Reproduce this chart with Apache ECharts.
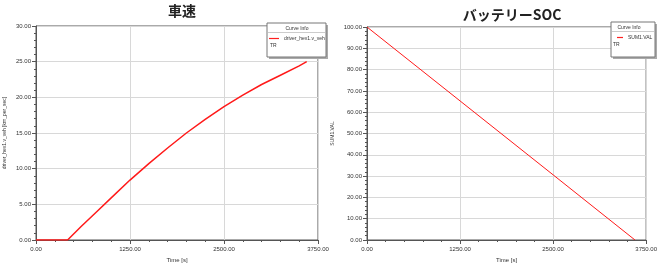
<!DOCTYPE html>
<html>
<head>
<meta charset="utf-8">
<script src="https://cdn.jsdelivr.net/npm/echarts@6/dist/echarts.min.js"></script>
<style>html,body{margin:0;padding:0;background:#fff}#c{width:660px;height:268px}</style>
</head>
<body>
<div id="c"></div>
<script>
// ---- data ----
const speedTitle = '車速';
const socTitle = 'バッテリーSOC';
const speedSeriesName = 'driver_hev1.v_veh';
const socSeriesName = 'SUM1.VAL';
const speedYName = 'driver_hev1.v_veh [km_per_sec]';
const socYName = 'SUM1.VAL';
const xName = 'Time [s]';
const speedTime = [0, 420, 600, 800, 1000, 1250, 1500, 1750, 2000, 2250, 2500, 2750, 3000, 3250, 3500, 3600];
const speedValue = [0, 0, 1.9, 3.9, 5.9, 8.4, 10.7, 12.9, 15.0, 16.9, 18.7, 20.3, 21.8, 23.1, 24.4, 25.0];
const socTime = [0, 1250, 2500, 3600];
const socValue = [100, 65.3, 30.6, 0];

const chart = echarts.init(document.getElementById('c'), null, {renderer: 'canvas'});
const FONT = 'Liberation Sans, Arial, sans-serif';
const axisColor = '#555';
function xAxis(gi) {
  return {
    type: 'value', gridIndex: gi, min: 0, max: 3750, interval: 1250,
    name: xName, nameLocation: 'middle', nameGap: 17,
    nameTextStyle: {fontSize: 6, color: '#333', fontFamily: FONT},
    axisLine: {show: true, lineStyle: {color: axisColor, width: 1}},
    axisTick: {show: true, length: 4, lineStyle: {color: axisColor}},
    minorTick: {show: true, splitNumber: 5, length: 2, lineStyle: {color: axisColor}},
    axisLabel: {fontSize: 6, color: '#333', fontFamily: FONT, margin: 6, formatter: v => v.toFixed(2)},
    splitLine: {show: true, lineStyle: {color: '#d8d8d8', width: 1}}
  };
}
function yAxis(gi, max, interval, name, gap) {
  return {
    type: 'value', gridIndex: gi, min: 0, max: max, interval: interval,
    name: name, nameLocation: 'middle', nameGap: gap, nameRotate: 90,
    nameTextStyle: {fontSize: 5, color: '#333', fontFamily: FONT},
    axisLine: {show: true, lineStyle: {color: axisColor, width: 1}},
    axisTick: {show: true, length: 4, lineStyle: {color: axisColor}},
    minorTick: {show: true, splitNumber: 5, length: 2, lineStyle: {color: axisColor}},
    axisLabel: {fontSize: 6, color: '#333', fontFamily: FONT, margin: 5, formatter: v => v.toFixed(2)},
    splitLine: {show: true, lineStyle: {color: '#d8d8d8', width: 1}}
  };
}
function legendBox(x, y, w, h, name, headerCx, s1, s2, tx, trx) {
  return [
    {type: 'rect', shape: {x: x + 2, y: y + 2, width: w, height: h}, style: {fill: '#aaa'}, z: 99},
    {type: 'rect', shape: {x: x, y: y, width: w, height: h},
     style: {fill: '#fff', stroke: '#777', lineWidth: 1}, z: 100},
    {type: 'line', shape: {x1: x + 1, y1: y + 9.5, x2: x + w - 1, y2: y + 9.5}, style: {stroke: '#ccc', lineWidth: 1}, z: 101},
    {type: 'text', x: headerCx, y: y + 6, style: {text: 'Curve Info', fontSize: 5, fill: '#333', fontFamily: FONT, align: 'center', verticalAlign: 'middle'}, z: 101},
    {type: 'line', shape: {x1: x + s1, y1: y + 15.5, x2: x + s2, y2: y + 15.5}, style: {stroke: '#ff2020', lineWidth: 1.2}, z: 101},
    {type: 'text', x: x + tx, y: y + 16, style: {text: name, fontSize: 5, fill: '#333', fontFamily: FONT, align: 'left', verticalAlign: 'middle'}, z: 101},
    {type: 'text', x: x + trx, y: y + 23, style: {text: 'TR', fontSize: 5, fill: '#333', fontFamily: FONT, align: 'left', verticalAlign: 'middle'}, z: 101}
  ];
}

chart.setOption({
  backgroundColor: '#fff',
  animation: false,
  title: [
    {text: speedTitle, left: 177, top: -1, textAlign: 'center', textStyle: {fontSize: 14, fontWeight: 'bold', color: '#222', fontFamily: 'Noto Sans CJK JP'}},
    {text: socTitle, left: 507, top: 3, textAlign: 'center', textStyle: {fontSize: 14, fontWeight: 'bold', color: '#222', fontFamily: 'Noto Sans CJK JP'}}
  ],
  grid: [
    {left: 36, top: 26, width: 282, height: 217, show: true, borderColor: axisColor, borderWidth: 1, backgroundColor: 'transparent'},
    {left: 367, top: 27, width: 280, height: 216, show: true, borderColor: axisColor, borderWidth: 1, backgroundColor: 'transparent'}
  ],
  xAxis: [xAxis(0), xAxis(1)],
  yAxis: [yAxis(0, 30, 5, speedYName, 29), yAxis(1, 100, 10, socYName, 32)],
  series: [
    {type: 'line', name: speedSeriesName, xAxisIndex: 0, yAxisIndex: 0, showSymbol: false, smooth: false,
     data: speedTime.map((t, i) => [t, speedValue[i]]), lineStyle: {color: '#ff1a1a', width: 1.5}},
    {type: 'line', name: socSeriesName, xAxisIndex: 1, yAxisIndex: 1, showSymbol: false,
     data: socTime.map((t, i) => [t, socValue[i]]), lineStyle: {color: '#ff1a1a', width: 1}}
  ],
  graphic: [].concat(
    legendBox(267, 23, 59, 34, speedSeriesName, 297, 2, 12, 17, 3),
    legendBox(611, 22, 44, 35, socSeriesName, 629, 6, 12, 17, 2)
  )
});
</script>
</body>
</html>
